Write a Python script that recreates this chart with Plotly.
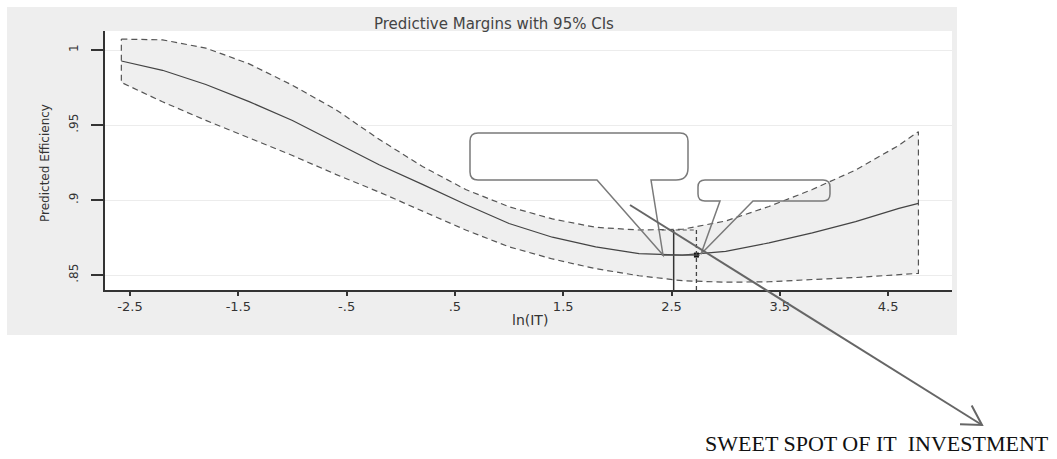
import math
import plotly.graph_objects as go

# ---------------- data ----------------
ln_it = [-2.58, -2.2, -1.8, -1.4, -1.0, -0.6, -0.2, 0.2, 0.6, 1.0,
         1.4, 1.8, 2.2, 2.6, 3.0, 3.4, 3.8, 4.2, 4.6, 4.78]
efficiency = [0.9927, 0.9865, 0.9770, 0.9656, 0.9530, 0.9383, 0.9235, 0.9104, 0.8970, 0.8843,
              0.8752, 0.8688, 0.8643, 0.8633, 0.8658, 0.8714, 0.8781, 0.8856, 0.8944, 0.8978]
ci_upper = [1.0073, 1.0068, 1.0013, 0.9908, 0.9765, 0.9603, 0.9405, 0.9224, 0.9070, 0.8955,
            0.8874, 0.8818, 0.8800, 0.8805, 0.8860, 0.8957, 0.9070, 0.9200, 0.9365, 0.9456]
ci_lower = [0.9784, 0.9655, 0.9531, 0.9414, 0.9297, 0.9171, 0.9053, 0.8925, 0.8800, 0.8688,
            0.8607, 0.8542, 0.8495, 0.8462, 0.8452, 0.8455, 0.8470, 0.8483, 0.8502, 0.8511]

x_ticks = [-2.5, -1.5, -0.5, 0.5, 1.5, 2.5, 3.5, 4.5]
x_tick_labels = ["-2.5", "-1.5", "-.5", ".5", "1.5", "2.5", "3.5", "4.5"]
y_ticks = [0.85, 0.9, 0.95, 1.0]
y_tick_labels = [".85", ".9", ".95", "1"]

sweet_spot_x = 2.73
sweet_spot_y = 0.8633
ref_line_x = 2.52
ref_top_y = 0.88

title_text = "Predictive Margins with 95% CIs"
x_title = "ln(IT)"
y_title = "Predicted Efficiency"
note_text = "SWEET SPOT OF IT\u00a0 INVESTMENT"

# ---------------- geometry ----------------
W, H = 1057, 459
L, R, T, B = 105, 105, 31, 169
PW, PH = W - L - R, H - T - B
XR = [-2.731, 5.090]
YR = [0.84, 1.0127]

def pxp(px):
    return (px - L) / PW

def pyp(py):
    return 1 - (py - T) / PH

def path(points_cmds):
    out = []
    for cmd, pts in points_cmds:
        if cmd == "Z":
            out.append("Z")
            continue
        coords = " ".join(f"{pxp(x):.5f},{pyp(y):.5f}" for x, y in pts)
        out.append(f"{cmd} {coords}")
    return " ".join(out)

GRAYLINE = "#7a7a7a"
FONT = "DejaVu Sans"

fig = go.Figure()

# CI band (filled polygon with dashed outline incl. end caps)
band_x = ln_it + ln_it[::-1] + [ln_it[0]]
band_y = ci_upper + ci_lower[::-1] + [ci_upper[0]]
fig.add_trace(go.Scatter(
    x=band_x, y=band_y, mode="lines", fill="toself",
    fillcolor="#efefef", line=dict(color="#555555", width=1.2, dash="6px,4px"),
    hoverinfo="skip", showlegend=False))

# predicted margin line
fig.add_trace(go.Scatter(
    x=ln_it, y=efficiency, mode="lines",
    line=dict(color="#444444", width=1.2), showlegend=False))

# sweet spot marker
fig.add_trace(go.Scatter(
    x=[sweet_spot_x], y=[sweet_spot_y], mode="markers",
    marker=dict(symbol="square", size=5, color="#111111"), showlegend=False))

shapes = []
# background graph region (gray) and white plot region
shapes.append(dict(type="rect", xref="paper", yref="paper",
                   x0=pxp(7), x1=pxp(957), y0=pyp(335), y1=pyp(7),
                   fillcolor="#eeeeee", line=dict(width=0), layer="below"))
shapes.append(dict(type="rect", xref="paper", yref="paper",
                   x0=0, x1=1, y0=0, y1=1,
                   fillcolor="white", line=dict(width=0), layer="below"))

# reference lines around the minimum
shapes.append(dict(type="line", xref="x", yref="y", x0=ref_line_x, x1=ref_line_x,
                   y0=YR[0], y1=ref_top_y, line=dict(color="#333333", width=1.5)))
shapes.append(dict(type="line", xref="x", yref="y", x0=sweet_spot_x, x1=sweet_spot_x,
                   y0=YR[0], y1=ref_top_y, line=dict(color="#444444", width=1.3, dash="4px,3px")))
shapes.append(dict(type="line", xref="x", yref="y", x0=2.41, x1=sweet_spot_x,
                   y0=ref_top_y, y1=ref_top_y, line=dict(color="#555555", width=1.2, dash="4px,3px")))
shapes.append(dict(type="line", xref="x", yref="y", x0=2.41, x1=2.76,
                   y0=sweet_spot_y, y1=sweet_spot_y, line=dict(color="#555555", width=1.2)))

# callout balloons
big = path([
    ("M", [(478, 133)]), ("L", [(680, 133)]), ("Q", [(688, 133), (688, 141)]),
    ("L", [(688, 168)]), ("Q", [(688, 180), (676, 180)]),
    ("L", [(651, 180)]), ("L", [(663, 255)]), ("L", [(597, 180)]),
    ("L", [(478, 180)]), ("Q", [(470, 180), (470, 172)]),
    ("L", [(470, 141)]), ("Q", [(470, 133), (478, 133)]), ("Z", None)])
small = path([
    ("M", [(705, 180)]), ("L", [(823, 180)]), ("Q", [(830, 180), (830, 187)]),
    ("L", [(830, 194)]), ("Q", [(830, 201), (823, 201)]),
    ("L", [(753, 201)]), ("L", [(701, 254)]), ("L", [(720, 201)]),
    ("L", [(705, 201)]), ("Q", [(698, 201), (698, 194)]),
    ("L", [(698, 187)]), ("Q", [(698, 180), (705, 180)]), ("Z", None)])
for p in (big, small):
    shapes.append(dict(type="path", xref="paper", yref="paper", path=p,
                       line=dict(color=GRAYLINE, width=1.5), fillcolor="rgba(0,0,0,0)"))

# big arrow to the note
tail = (630, 205)
tip = (982, 425)
dx, dy = tip[0] - tail[0], tip[1] - tail[1]
n = math.hypot(dx, dy)
bx, by = -dx / n, -dy / n
wl = 22
c, s = math.cos(math.radians(30)), math.sin(math.radians(30))
w1 = (tip[0] + wl * (bx * c - by * s), tip[1] + wl * (bx * s + by * c))
w2 = (tip[0] + wl * (bx * c + by * s), tip[1] + wl * (-bx * s + by * c))
shapes.append(dict(type="line", xref="paper", yref="paper",
                   x0=pxp(tail[0]), y0=pyp(tail[1]), x1=pxp(tip[0]), y1=pyp(tip[1]),
                   line=dict(color="#666666", width=2)))
shapes.append(dict(type="path", xref="paper", yref="paper",
                   path=path([("M", [w1]), ("L", [tip]), ("L", [w2])]),
                   line=dict(color="#666666", width=2), fillcolor="rgba(0,0,0,0)"))

annotations = [
    dict(text=title_text, xref="paper", yref="paper", x=pxp(494), y=pyp(24),
         showarrow=False, xanchor="center", yanchor="middle",
         font=dict(family=FONT, size=15, color="#444444")),
    dict(text=x_title, xref="paper", yref="paper", x=pxp(530), y=pyp(320),
         showarrow=False, xanchor="center", yanchor="middle",
         font=dict(family=FONT, size=14, color="#333333")),
    dict(text=y_title, xref="paper", yref="paper", x=pxp(45), y=pyp(163),
         showarrow=False, xanchor="center", yanchor="middle", textangle=-90,
         font=dict(family=FONT, size=12, color="#333333")),
    dict(text=note_text, xref="paper", yref="paper", x=pxp(877), y=pyp(443),
         showarrow=False, xanchor="center", yanchor="middle",
         font=dict(family="Liberation Serif", size=22, color="#111111")),
]

fig.update_layout(
    width=W, height=H, autosize=False,
    margin=dict(l=L, r=R, t=T, b=B, pad=0),
    paper_bgcolor="white", plot_bgcolor="white",
    shapes=shapes, annotations=annotations, showlegend=False,
    xaxis=dict(range=XR, tickmode="array", tickvals=x_ticks, ticktext=x_tick_labels,
               showgrid=False, zeroline=False, showline=True, linecolor="#333333", linewidth=1.5,
               ticks="outside", ticklen=4, tickwidth=1.5, tickcolor="#333333",
               tickfont=dict(family=FONT, size=13, color="#333333")),
    yaxis=dict(range=YR, tickmode="array", tickvals=y_ticks, ticktext=y_tick_labels,
               showgrid=True, gridcolor="#ececec", gridwidth=1, zeroline=False,
               showline=True, linecolor="#333333", linewidth=1.5,
               ticks="outside", ticklen=12, tickwidth=1.5, tickcolor="#333333",
               tickangle=-90, ticklabelstandoff=8,
               tickfont=dict(family=FONT, size=12, color="#333333")),
)

fig.write_html("out.html", config={"displayModeBar": False},
               post_script="document.body.style.margin='0px';")
